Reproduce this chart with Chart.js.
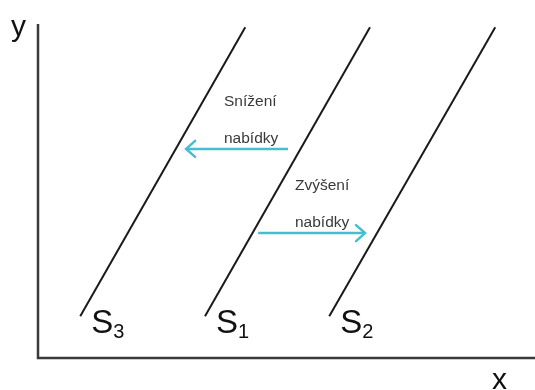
<!DOCTYPE html>
<html>
<head>
<meta charset="utf-8">
<script src="https://cdn.jsdelivr.net/npm/chart.js@4"></script>
<style>
  html, body { margin: 0; padding: 0; background: #fff; }
  #wrap { width: 535px; height: 390px; }
</style>
</head>
<body>
<div id="wrap"><canvas id="chart"></canvas></div>
<script>
// nabídkové křivky (x, y v jednotkách grafu 0..100)
const curveNames = ['S3', 'S1', 'S2'];
const curveX0 = [8.5, 33.6, 58.6];
const curveX1 = [41.7, 66.8, 92.0];
const curveY0 = [12.5, 12.5, 12.5];
const curveY1 = [99.0, 99.0, 99.0];

// posuny nabídky (šipky)
const shiftLabels = [['Snížení', 'nabídky'], ['Zvýšení', 'nabídky']];
const shiftFromX = [50.3, 44.3];
const shiftToX = [29.8, 65.8];
const shiftY = [62.6, 37.4];

const axisLabels = ['x', 'y'];

const lineColor = '#1a1a1a';
const arrowColor = '#45bfd0';

const datasets = [];
curveNames.forEach((name, i) => {
    datasets.push({
        label: name,
        data: [{ x: curveX0[i], y: curveY0[i] }, { x: curveX1[i], y: curveY1[i] }],
        borderColor: lineColor,
        borderWidth: 2,
        pointRadius: 0,
        showLine: true,
        kind: 'curve'
    });
});
shiftFromX.forEach((x0, i) => {
    datasets.push({
        label: shiftLabels[i].join(' '),
        data: [{ x: x0, y: shiftY[i] }, { x: shiftToX[i], y: shiftY[i] }],
        borderColor: arrowColor,
        borderWidth: 2.5,
        pointRadius: 0,
        showLine: true,
        kind: 'arrow',
        idx: i
    });
});

const decorPlugin = {
    id: 'decor',
    afterDatasetsDraw(chart) {
        const { ctx, scales: { x, y }, chartArea } = chart;
        ctx.save();

        // osy
        ctx.strokeStyle = '#3a3a3a';
        ctx.lineWidth = 2.5;
        ctx.beginPath();
        ctx.moveTo(chartArea.left, chartArea.top);
        ctx.lineTo(chartArea.left, chartArea.bottom);
        ctx.lineTo(chartArea.right, chartArea.bottom);
        ctx.stroke();

        // popisky os
        ctx.fillStyle = '#111';
        ctx.font = '30px "Liberation Sans", Arial, sans-serif';
        ctx.textBaseline = 'alphabetic';
        ctx.fillText(axisLabels[1], chartArea.left - 27, chartArea.top + 12);
        ctx.fillText(axisLabels[0], chartArea.right - 43, chartArea.bottom + 31);

        // popisky křivek S s indexem
        curveNames.forEach((name, i) => {
            const px = x.getPixelForValue(curveX0[i]);
            const py = y.getPixelForValue(curveY0[i]);
            ctx.font = '33px "Liberation Sans", Arial, sans-serif';
            ctx.fillStyle = '#111';
            ctx.fillText(name[0], px + 11, py + 17);
            const w = ctx.measureText(name[0]).width;
            ctx.font = '20px "Liberation Sans", Arial, sans-serif';
            ctx.fillText(name.slice(1), px + 11 + w, py + 22);
        });

        // šipky a texty
        chart.data.datasets.forEach(ds => {
            if (ds.kind !== 'arrow') return;
            const i = ds.idx;
            const tx = x.getPixelForValue(shiftToX[i]);
            const fx = x.getPixelForValue(shiftFromX[i]);
            const py = y.getPixelForValue(shiftY[i]);
            const dir = tx < fx ? 1 : -1;
            ctx.strokeStyle = arrowColor;
            ctx.lineWidth = 2.5;
            ctx.lineCap = 'round';
            ctx.beginPath();
            ctx.moveTo(tx + dir * 9, py - 8);
            ctx.lineTo(tx, py);
            ctx.lineTo(tx + dir * 9, py + 8);
            ctx.stroke();

            ctx.fillStyle = '#3a3a3a';
            ctx.font = '15.5px "Liberation Sans", Arial, sans-serif';
            ctx.textBaseline = 'middle';
            const left = i === 0 ? 224 : 295;
            ctx.fillText(shiftLabels[i][0], left, py - 47);
            ctx.fillText(shiftLabels[i][1], left, py - 10);
            ctx.textBaseline = 'alphabetic';
        });

        ctx.restore();
    }
};

new Chart(document.getElementById('chart'), {
    type: 'scatter',
    data: { datasets },
    options: {
        responsive: true,
        maintainAspectRatio: false,
        animation: false,
        layout: { padding: { left: 38, top: 24, right: 0, bottom: 32 } },
        plugins: { legend: { display: false }, tooltip: { enabled: false } },
        scales: {
            x: {
                min: 0, max: 100,
                display: false
            },
            y: {
                min: 0, max: 100,
                display: false
            }
        }
    },
    plugins: [decorPlugin]
});
</script>
</body>
</html>
